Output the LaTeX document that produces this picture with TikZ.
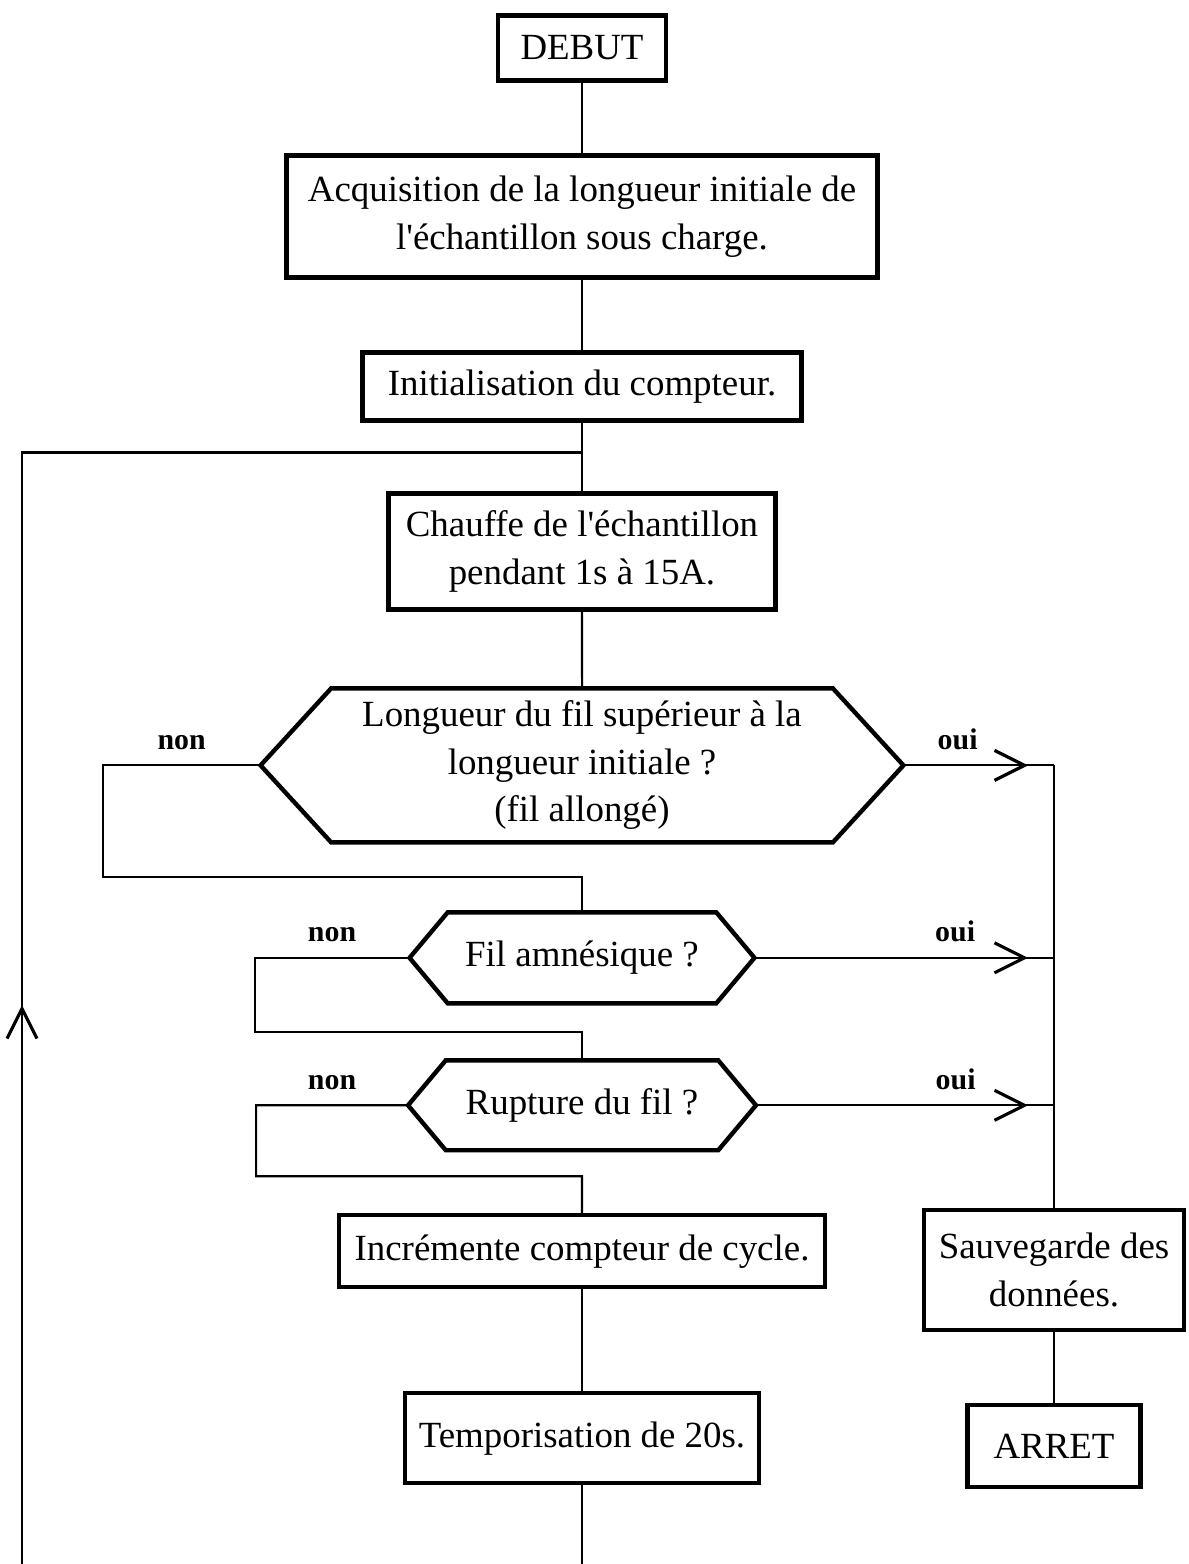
\documentclass[tikz,border=0pt]{standalone}
\usepackage{fontspec}
\setmainfont{Liberation Serif}
\usetikzlibrary{positioning}
\usetikzlibrary{shapes.symbols}
\usetikzlibrary{arrows.meta}
\usetikzlibrary{calc}
\tikzset{bloc/.style={ % Sets the properties for each box
      draw, line width=2.5pt, outer sep=0pt,
      align=center, inner sep=2pt,
      font=\fontsize{21}{27}\selectfont},
      test/.style={ % Sets the properties for each decision
      bloc, signal, signal to=west and east},
      lab/.style={font=\fontsize{17}{20}\selectfont\bfseries}, % non / oui
      lien/.style={line width=1.2pt}, % Plain connectors
      fleche/.style={ % Connectors with an open arrow head
      lien, -{Straight Barb[length=6mm, width=6mm, line width=1.8pt]}}}

\begin{document}
\begin{tikzpicture}[x=0.02cm, y=-0.02cm]
      \useasboundingbox (0,0) rectangle (1188,1564);
      % main column
      \node[bloc, minimum width=3.36cm, minimum height=1.3cm] (debut) at (582,48) {DEBUT};
      \node[bloc, minimum width=11.82cm, minimum height=2.44cm, below=1.5cm of debut] (acq) {Acquisition de la longueur initiale de\\l\textquotesingle échantillon sous charge.};
      \node[bloc, minimum width=8.78cm, minimum height=1.36cm, below=1.5cm of acq] (init) {Initialisation du compteur.};
      \node[bloc, minimum width=7.74cm, minimum height=2.32cm, below=1.46cm of init] (chauffe) {Chauffe de l\textquotesingle échantillon\\pendant 1s à 15A.};
      \node[test, minimum width=12.86cm, minimum height=3.08cm, signal pointer angle=95, below=1.58cm of chauffe] (t1) {Longueur du fil supérieur à la\\longueur initiale ?\\(fil allongé)};
      \node[test, minimum width=6.9cm, minimum height=1.82cm, signal pointer angle=100, below=1.4cm of t1] (t2) {Fil amnésique ?};
      \node[test, minimum width=6.96cm, minimum height=1.8cm, signal pointer angle=100, below=1.14cm of t2] (t3) {Rupture du fil ?};
      \node[bloc, minimum width=9.72cm, minimum height=1.44cm, below=1.3cm of t3] (incr) {Incrémente compteur de cycle.};
      \node[bloc, minimum width=7.08cm, minimum height=1.8cm, below=2.12cm of incr] (tempo) {Temporisation de 20s.};
      % right column
      \node[bloc, minimum width=5.2cm, minimum height=2.4cm] (sauve) at (1054,1270) {Sauvegarde des\\données.};
      \node[bloc, minimum width=3.46cm, minimum height=1.64cm, below=1.5cm of sauve] (arret) {ARRET};

      \draw[lien] (debut) -- (acq);
      \draw[lien] (acq) -- (init);
      \draw[lien] (init) -- (chauffe);
      \draw[lien] (chauffe) -- (t1);
      \draw[lien] (incr) -- (tempo);
      \draw[lien] (sauve) -- (arret);

      % non branches
      \coordinate (m1) at ($(t1.south)!0.5!(t2.north)$);
      \coordinate (m2) at ($(t2.south)!0.5!(t3.north)$);
      \coordinate (m3) at ($(t3.south)!0.4!(incr.north)$);
      \draw[lien] (t1.west) -- node[lab, above=5pt] {non} ++(-3.16cm,0) |- (m1) -- (t2.north);
      \draw[lien] (t2.west) -- node[lab, above=5pt] {non} ++(-3.1cm,0) |- (m2) -- (t3.north);
      \draw[lien] (t3.west) -- node[lab, above=5pt] {non} ++(-3.04cm,0) |- (m3) -- (incr.north);

      % oui branches
      \coordinate (j1) at (t1.east -| sauve.north);
      \coordinate (j2) at (t2.east -| sauve.north);
      \coordinate (j3) at (t3.east -| sauve.north);
      \draw[lien] (t1.east) -- node[lab, pos=0.36, above=5pt] {oui} (j1);
      \draw[lien] (t2.east) -- node[lab, pos=0.67, above=5pt] {oui} (j2);
      \draw[lien] (t3.east) -- node[lab, pos=0.67, above=5pt] {oui} (j3);
      \draw[fleche] (t1.east) -- ([xshift=-0.52cm]j1);
      \draw[fleche] (t2.east) -- ([xshift=-0.52cm]j2);
      \draw[fleche] (t3.east) -- ([xshift=-0.52cm]j3);
      \draw[lien] (j1) -- (sauve.north);

      % loop back
      \coordinate (retour) at ($(init.south)!0.44!(chauffe.north)$);
      \coordinate (bas) at (tempo.south |- 0,1564);
      \coordinate (bas gauche) at (22,1564);
      \coordinate (fl) at (22,1005);
      \draw[lien] (tempo) -- (bas);
      \draw[lien] (bas gauche) |- (retour);
      \draw[fleche] (bas gauche) -- (fl);
\end{tikzpicture}
\end{document}
